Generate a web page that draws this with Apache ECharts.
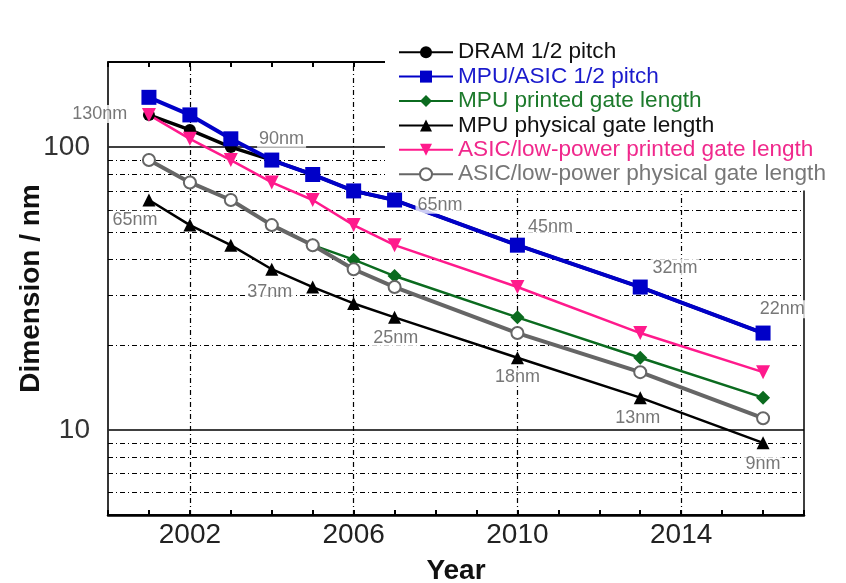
<!DOCTYPE html>
<html>
<head>
<meta charset="utf-8">
<script src="https://cdn.jsdelivr.net/npm/echarts@6/dist/echarts.min.js"></script>
<style>
html, body { margin: 0; padding: 0; background: #fff; }
#chart { width: 846px; height: 583px; }
</style>
</head>
<body>
<div id="chart"></div>
<script>
// ITRS nodes, values in nm
var years = [2001, 2002, 2003, 2004, 2005, 2006, 2007, 2010, 2013, 2016];
var dramPitch = [130, 115, 100, 90, 80, 70, 65, 45, 32, 22];
var mpuPitch = [150, 130, 107, 90, 80, 70, 65, 45, 32, 22];
var mpuPrinted = [90, 75, 65, 53, 45, 40, 35, 25, 18, 13];
var mpuPhysical = [65, 53, 45, 37, 32, 28, 25, 18, 13, 9];
var asicPrinted = [130, 107, 90, 75, 65, 53, 45, 32, 22, 16];
var asicPhysical = [90, 75, 65, 53, 45, 37, 32, 22, 16, 11];

var xLabelYears = [2002, 2006, 2010, 2014];
var yLabelValues = [10, 100];
var minorGridValues = [6, 7, 8, 9, 20, 30, 40, 50, 60, 70, 80, 90];

// node annotations (text, year, nm)
var nodeLabels = ['130nm', '90nm', '65nm', '45nm', '32nm', '22nm', '65nm', '37nm', '25nm', '18nm', '13nm', '9nm'];
var nodeYears = [1999.8, 2004.24, 2008.11, 2010.81, 2013.85, 2016.47, 2000.66, 2003.95, 2007.03, 2010.0, 2012.94, 2016.0];
var nodeValues = [131, 107, 62.5, 52.3, 37.5, 26.7, 55.3, 30.8, 21.2, 15.4, 11.0, 7.6];

var font = 'Liberation Sans, Arial, sans-serif';

function pairs(vals) {
    return years.map(function (y, i) { return [y, vals[i]]; });
}

function lineSeries(name, vals, color, symbol, size, width, extra) {
    var s = {
        name: name,
        type: 'line',
        data: pairs(vals),
        symbol: symbol,
        symbolSize: size,
        lineStyle: { color: color, width: width },
        itemStyle: { color: color },
        animation: false
    };
    for (var k in extra) s[k] = extra[k];
    return s;
}

var gridMarks = [];
xLabelYears.forEach(function (y) { gridMarks.push({ xAxis: y }); });
minorGridValues.forEach(function (v) { gridMarks.push({ yAxis: v }); });

var annotations = nodeLabels.map(function (t, i) {
    return { name: t, value: [nodeYears[i], nodeValues[i]] };
});

var option = {
    backgroundColor: '#fff',
    grid: {
        left: 108, right: 42, top: 62, bottom: 68,
        containLabel: false,
        outerBoundsMode: 'none',
        show: true, borderColor: '#000', borderWidth: 1.5
    },
    legend: {
        orient: 'vertical',
        left: 385,
        top: 36,
        padding: [4, 10, 4, 13],
        backgroundColor: '#fff',
        z: 10,
        itemWidth: 54,
        itemHeight: 15,
        itemGap: 0,
        textStyle: { fontSize: 22.6, lineHeight: 24.4, fontFamily: font },
        data: [
            { name: 'DRAM 1/2 pitch', textStyle: { color: '#111' } },
            { name: 'MPU/ASIC 1/2 pitch', textStyle: { color: '#1a1acc' } },
            { name: 'MPU printed gate length', textStyle: { color: '#1d7a2c' } },
            { name: 'MPU physical gate length', textStyle: { color: '#111' } },
            { name: 'ASIC/low-power printed gate length', textStyle: { color: '#f0288c' } },
            { name: 'ASIC/low-power physical gate length', textStyle: { color: '#777' } }
        ]
    },
    xAxis: [{
        type: 'value',
        min: 2000,
        max: 2017,
        interval: 1,
        name: 'Year',
        nameLocation: 'middle',
        nameGap: 42,
        nameMoveOverlap: false,
        nameTextStyle: { fontSize: 28, fontWeight: 'bold', color: '#111', fontFamily: font },
        axisLine: { lineStyle: { color: '#000', width: 2.5 } },
        axisTick: { inside: true, length: 5, lineStyle: { color: '#000', width: 2 } },
        axisLabel: {
            fontSize: 28, color: '#222', margin: 6, fontFamily: font,
            formatter: function (v) { return xLabelYears.indexOf(v) >= 0 ? String(v) : ''; }
        },
        splitLine: { show: false }
    }, {
        type: 'value',
        position: 'top',
        min: 2000,
        max: 2017,
        interval: 1,
        axisLine: { lineStyle: { color: '#000', width: 1.5 } },
        axisTick: { inside: true, length: 5, lineStyle: { color: '#000', width: 2 } },
        axisLabel: { show: false },
        splitLine: { show: false }
    }],
    yAxis: {
        type: 'log',
        logBase: 10,
        min: 5,
        max: 200,
        name: 'Dimension / nm',
        nameLocation: 'middle',
        nameGap: 63,
        nameMoveOverlap: false,
        nameTextStyle: { fontSize: 28, fontWeight: 'bold', color: '#111', fontFamily: font },
        axisLine: { lineStyle: { color: '#333', width: 1.5 } },
        axisTick: { show: false },
        axisLabel: {
            fontSize: 28, color: '#333', margin: 18, fontFamily: font,
            formatter: function (v) { return yLabelValues.indexOf(Math.round(v)) >= 0 ? String(Math.round(v)) : ''; }
        },
        splitLine: { show: true, lineStyle: { color: '#000', width: 1.5 } }
    },
    series: [
        {
            name: 'grid',
            type: 'line',
            data: [],
            z: 1,
            silent: true,
            animation: false,
            markLine: {
                z: 1,
                silent: true,
                symbol: 'none',
                label: { show: false },
                animation: false,
                lineStyle: { color: '#000', width: 1.2, type: [5, 3, 1, 3] },
                data: gridMarks
            }
        },
        lineSeries('DRAM 1/2 pitch', dramPitch, '#000', 'circle', 12, 3.5),
        lineSeries('MPU/ASIC 1/2 pitch', mpuPitch, '#0000c8', 'rect', 15, 4),
        lineSeries('MPU printed gate length', mpuPrinted, '#0b6b1f', 'diamond', 14, 2.5),
        lineSeries('MPU physical gate length', mpuPhysical, '#000', 'triangle', 13, 2.5),
        lineSeries('ASIC/low-power printed gate length', asicPrinted, '#ff1a8c', 'triangle', 14, 2.5, { symbolRotate: 180 }),
        lineSeries('ASIC/low-power physical gate length', asicPhysical, '#666', 'emptyCircle', 12, 4, {
            itemStyle: { color: '#666', borderColor: '#666', borderWidth: 2 }
        }),
        {
            name: 'nodes',
            type: 'scatter',
            data: annotations,
            symbolSize: 1,
            clip: false,
            z: 5,
            silent: true,
            animation: false,
            itemStyle: { color: 'rgba(0,0,0,0)' },
            label: {
                show: true,
                position: 'inside',
                formatter: '{b}',
                fontSize: 18,
                color: '#555',
                fontFamily: font,
                backgroundColor: '#fff',
                padding: [0, 2]
            }
        }
    ]
};

var chart = echarts.init(document.getElementById('chart'));
chart.setOption(option);
window.onresize = chart.resize;
</script>
</body>
</html>
